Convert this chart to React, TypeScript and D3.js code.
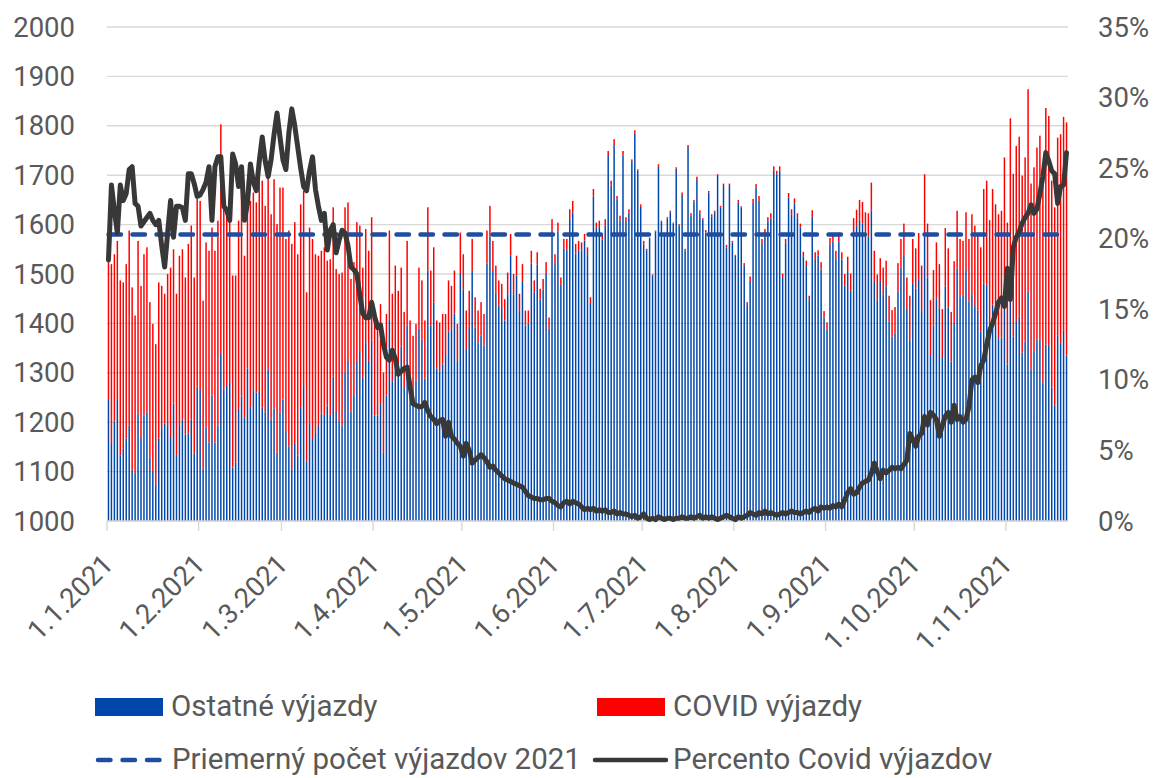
import { useRef, useEffect } from 'react';
import * as d3 from 'd3';

// popisky osi x (prvy den v mesiaci)
const mesiace = ['1.1.2021', '1.2.2021', '1.3.2021', '1.4.2021', '1.5.2021', '1.6.2021',
  '1.7.2021', '1.8.2021', '1.9.2021', '1.10.2021', '1.11.2021'];

// denny pocet vyjazdov spolu (od 1.1.2021)
const vyjazdySpolu = [
  1527, 1520, 1540, 1567, 1487, 1483, 1520, 1588, 1473, 1416,
  1567, 1476, 1540, 1554, 1443, 1399, 1358, 1483, 1476, 1460,
  1500, 1513, 1550, 1460, 1537, 1550, 1493, 1561, 1598, 1493,
  1652, 1648, 1446, 1564, 1547, 1594, 1547, 1608, 1803, 1631,
  1635, 1628, 1497, 1497, 1608, 1672, 1537, 1689, 1648, 1665,
  1645, 1695, 1689, 1638, 1729, 1621, 1692, 1601, 1675, 1675,
  1571, 1588, 1561, 1605, 1540, 1641, 1668, 1463, 1594, 1571,
  1540, 1537, 1547, 1554, 1527, 1530, 1635, 1510, 1500, 1503,
  1635, 1645, 1490, 1524, 1605, 1598, 1513, 1591, 1547, 1615,
  1419, 1406, 1439, 1301, 1419, 1588, 1460, 1517, 1466, 1513,
  1423, 1567, 1406, 1375, 1399, 1513, 1487, 1406, 1635, 1507,
  1554, 1406, 1402, 1419, 1419, 1487, 1476, 1507, 1399, 1584,
  1540,
  1426, 1466, 1571, 1453, 1426, 1443, 1419, 1588, 1638, 1567,
  1517, 1487, 1480, 1449, 1503, 1581, 1500, 1537, 1460, 1520,
  1426, 1426, 1547, 1487, 1544, 1470, 1490, 1524, 1412, 1611,
  1540, 1604, 1493, 1571, 1571, 1631, 1648, 1561, 1567, 1564,
  1581,
  1554, 1453, 1672, 1604, 1608, 1581, 1611, 1749, 1689, 1773,
  1658, 1618, 1749, 1615, 1631, 1732, 1791, 1712, 1641, 1567,
  1551, 1574, 1499, 1588, 1722, 1608, 1581, 1615, 1628, 1604,
  1716, 1601, 1665, 1551, 1761, 1623, 1650, 1697, 1629, 1613,
  1589, 1668, 1621, 1628, 1702, 1638, 1683, 1559, 1683, 1567,
  1539, 1650, 1637, 1522, 1443, 1495, 1652, 1682, 1658, 1571,
  1591, 1615, 1623, 1718, 1709, 1718, 1501, 1571, 1664, 1631,
  1653, 1623, 1602, 1545, 1527, 1456, 1629, 1544, 1548, 1524,
  1425,
  1402, 1573, 1582, 1547, 1584, 1544, 1500, 1535, 1501, 1613,
  1630, 1650, 1646, 1625, 1623, 1685, 1547, 1499, 1532, 1513,
  1527, 1456, 1427, 1433, 1522, 1571, 1602, 1493, 1456, 1571,
  1552, 1583, 1517, 1702, 1602, 1447, 1508, 1564, 1520, 1429,
  1593,
  1552, 1423, 1526, 1628, 1571, 1567, 1625, 1571, 1621, 1598,
  1581, 1554, 1672, 1689, 1609, 1672, 1641, 1621, 1628, 1736,
  1604, 1815, 1703, 1759, 1778, 1699, 1736, 1874, 1683, 1716,
  1756, 1780, 1695, 1836, 1820, 1689, 1635, 1776, 1783, 1818,
  1807,
];

// percento covid vyjazdov v dany den
const percentoCovid = [
  18.5, 23.8, 22.0, 20.4, 23.8, 22.7, 23.2, 24.9, 25.1, 22.5,
  22.3, 20.9, 21.2, 21.5, 21.8, 21.3, 21.0, 21.3, 19.5, 18.0,
  20.4, 22.7, 20.1, 22.3, 22.3, 22.2, 21.3, 24.6, 24.6, 23.9,
  23.0, 23.1, 23.5, 24.0, 25.1, 21.3, 25.1, 25.8, 25.8, 22.3,
  22.0, 21.3, 26.0, 25.3, 23.7, 25.1, 21.3, 22.5, 25.3, 24.0,
  23.4, 25.5, 27.2, 25.5, 24.4, 25.6, 27.4, 28.9, 27.2, 25.6,
  24.9, 27.5, 29.2, 28.0, 26.5, 25.0, 23.7, 23.4, 24.8, 25.8,
  23.5, 22.3, 21.3, 21.8, 19.2, 20.6, 21.0, 19.0, 19.9, 20.6,
  20.4, 19.5, 18.0, 17.8, 17.5, 16.0, 14.7, 14.4, 14.4, 15.5,
  14.5, 13.7, 13.9, 12.5, 11.6, 11.4, 12.1, 11.5, 10.4, 10.6,
  10.8, 10.9, 9.5, 8.3, 8.2, 8.1, 8.1, 8.4, 7.8, 7.4,
  7.2, 6.9, 7.1, 7.2, 6.0, 7.0, 6.0, 5.8, 5.5, 5.3,
  4.6,
  5.5, 5.0, 4.1, 4.3, 4.5, 4.7, 4.5, 4.2, 3.8, 3.9,
  3.6, 3.4, 3.2, 3.0, 2.9, 2.8, 2.7, 2.6, 2.5, 2.4,
  2.1, 1.8, 1.7, 1.6, 1.6, 1.5, 1.5, 1.6, 1.6, 1.4,
  1.3, 1.1, 1.0, 1.3, 1.4, 1.2, 1.4, 1.3, 1.2, 1.0,
  0.8,
  0.9, 0.8, 0.9, 0.7, 0.8, 0.7, 0.8, 0.6, 0.6, 0.7,
  0.5, 0.6, 0.5, 0.5, 0.4, 0.3, 0.4, 0.2, 0.3, 0.5,
  0.2, 0.1, 0.2, 0.1, 0.3, 0.2, 0.1, 0.2, 0.2, 0.1,
  0.2, 0.2, 0.3, 0.2, 0.2, 0.3, 0.2, 0.3, 0.4, 0.2,
  0.3, 0.2, 0.3, 0.2, 0.1, 0.2, 0.3, 0.4, 0.3, 0.2,
  0.1, 0.3, 0.2, 0.3, 0.4, 0.6, 0.5, 0.4, 0.6, 0.5,
  0.7, 0.5, 0.6, 0.5, 0.4, 0.5, 0.6, 0.5, 0.6, 0.7,
  0.6, 0.6, 0.5, 0.6, 0.7, 0.6, 0.8, 0.9, 0.7, 1.0,
  0.9,
  1.0, 0.9, 1.1, 1.0, 1.2, 1.0, 1.5, 2.0, 2.3, 1.9,
  2.0, 2.4, 2.7, 2.8, 2.9, 3.4, 4.1, 3.5, 3.0, 3.6,
  3.4, 3.6, 3.8, 3.7, 3.8, 3.7, 4.0, 4.3, 6.2, 5.8,
  5.3, 6.0, 6.2, 7.4, 6.8, 7.7, 7.5, 7.2, 6.0, 6.8,
  7.4,
  7.7, 7.0, 8.2, 7.2, 7.4, 7.0, 7.2, 8.1, 10.0, 10.2,
  9.8, 11.0, 11.4, 12.5, 13.5, 14.0, 14.7, 15.5, 15.8, 15.2,
  17.9, 15.7, 19.4, 20.1, 20.5, 21.1, 21.5, 21.8, 22.4, 21.8,
  22.1, 23.2, 24.4, 26.1, 25.5, 24.8, 24.6, 22.5, 23.7, 23.8,
  26.1,
];

const priemerVyjazdov = 1580;

const modra = '#0047ab';
const cervena = '#ff0000';
const sedaText = '#595959';
const font = 'Roboto, "Liberation Sans", sans-serif';

const W = 1161;
const H = 778;
const margin = { top: 27, right: 93, bottom: 257, left: 107 };

const App = () => {
  const svgRef = useRef<SVGSVGElement>(null);

  useEffect(() => {
    const svg = d3.select(svgRef.current);
    svg.selectAll('*').remove();

    const start = new Date(2021, 0, 1);
    const dni = d3.timeDay.range(start, d3.timeDay.offset(start, vyjazdySpolu.length));

    // rozdelenie na covid a ostatne
    const data = dni.map((d, i) => {
      const covid = Math.round(vyjazdySpolu[i] * percentoCovid[i] / 100);
      return { i, den: d, ostatne: vyjazdySpolu[i] - covid, covid, pct: percentoCovid[i] / 100 };
    });

    const x = d3.scaleBand<number>()
      .domain(data.map((d) => d.i))
      .range([margin.left, W - margin.right])
      .paddingInner(0.5)
      .paddingOuter(0.25);
    const yL = d3.scaleLinear().domain([1000, 2000]).range([H - margin.bottom, margin.top]).clamp(true);
    const yR = d3.scaleLinear().domain([0, 0.35]).range([H - margin.bottom, margin.top]);
    const cx = (i: number) => (x(i) as number) + x.bandwidth() / 2;

    // mriezka
    svg.append('g')
      .selectAll('line')
      .data(yL.ticks(10))
      .join('line')
      .attr('x1', margin.left)
      .attr('x2', W - margin.right)
      .attr('y1', (d) => yL(d))
      .attr('y2', (d) => yL(d))
      .attr('stroke', '#d9d9d9')
      .attr('stroke-width', 1.4);

    // stlpce
    const stack = d3.stack<any>().keys(['ostatne', 'covid'])(data);
    const farby = [modra, cervena];
    svg.append('g')
      .selectAll('g')
      .data(stack)
      .join('g')
      .attr('fill', (_, k) => farby[k])
      .selectAll('rect')
      .data((s) => s)
      .join('rect')
      .attr('x', (d: any) => x(d.data.i) as number)
      .attr('width', x.bandwidth())
      .attr('y', (d) => yL(d[1]))
      .attr('height', (d) => yL(d[0]) - yL(d[1]));

    // os x
    const yOs = H - margin.bottom;
    svg.append('line')
      .attr('x1', margin.left).attr('x2', W - margin.right)
      .attr('y1', yOs).attr('y2', yOs)
      .attr('stroke', '#d9d9d9').attr('stroke-width', 1.4);

    const prveDni = data.filter((d) => d.den.getDate() === 1);
    const krokX = x.step();
    const osX = svg.append('g');
    osX.selectAll('line')
      .data(prveDni)
      .join('line')
      .attr('x1', (d) => (x(d.i) as number) - (krokX - x.bandwidth()) / 2)
      .attr('x2', (d) => (x(d.i) as number) - (krokX - x.bandwidth()) / 2)
      .attr('y1', yOs)
      .attr('y2', yOs + 10)
      .attr('stroke', '#d9d9d9')
      .attr('stroke-width', 1.4);
    osX.selectAll('text')
      .data(prveDni)
      .join('text')
      .attr('transform', (d) => `translate(${(x(d.i) as number) + 7},${yOs + 45}) rotate(-45)`)
      .attr('text-anchor', 'end')
      .attr('fill', sedaText)
      .style('font-family', font)
      .style('font-size', '27.5px')
      .text((_, k) => mesiace[k]);

    // lava os
    svg.append('g')
      .selectAll('text')
      .data(yL.ticks(10))
      .join('text')
      .attr('x', 75)
      .attr('y', (d) => yL(d))
      .attr('dy', '0.35em')
      .attr('text-anchor', 'end')
      .attr('fill', sedaText)
      .style('font-family', font)
      .style('font-size', '27.5px')
      .text((d) => d);

    // prava os
    svg.append('g')
      .selectAll('text')
      .data(d3.range(0, 0.351, 0.05))
      .join('text')
      .attr('x', 1098)
      .attr('y', (d) => yR(d))
      .attr('dy', '0.35em')
      .attr('fill', sedaText)
      .style('font-family', font)
      .style('font-size', '27.5px')
      .text((d) => d3.format('.0%')(d));

    // priemerny pocet vyjazdov
    const priemerLine = d3.line<any>().x((d) => cx(d.i)).y(() => yL(priemerVyjazdov));
    svg.append('path')
      .attr('d', priemerLine(data))
      .attr('fill', 'none')
      .attr('stroke', '#1f4e9f')
      .attr('stroke-width', 4.5)
      .attr('stroke-linecap', 'round')
      .attr('stroke-dasharray', '12.5 11.5');

    // percento covid vyjazdov
    const pctLine = d3.line<any>().x((d) => cx(d.i)).y((d) => yR(d.pct));
    svg.append('path')
      .attr('d', pctLine(data))
      .attr('fill', 'none')
      .attr('stroke', '#383838')
      .attr('stroke-width', 5)
      .attr('stroke-linejoin', 'round')
      .attr('stroke-linecap', 'round');

    // legenda
    const leg = svg.append('g').style('font-family', font).style('font-size', '29.5px').attr('fill', sedaText);
    leg.append('rect').attr('x', 95).attr('y', 698).attr('width', 68).attr('height', 18).attr('fill', modra);
    leg.append('text').attr('x', 171).attr('y', 716).text('Ostatné výjazdy');
    leg.append('rect').attr('x', 597).attr('y', 698).attr('width', 68).attr('height', 18).attr('fill', cervena);
    leg.append('text').attr('x', 673).attr('y', 716).text('COVID výjazdy');
    leg.append('line')
      .attr('x1', 98).attr('x2', 160).attr('y1', 760).attr('y2', 760)
      .attr('stroke', '#1f4e9f').attr('stroke-width', 4.5)
      .attr('stroke-linecap', 'round').attr('stroke-dasharray', '12.5 12');
    leg.append('text').attr('x', 172).attr('y', 769).text('Priemerný počet výjazdov 2021');
    leg.append('line')
      .attr('x1', 595).attr('x2', 666).attr('y1', 760).attr('y2', 760)
      .attr('stroke', '#383838').attr('stroke-width', 4.5)
      .attr('stroke-linecap', 'round');
    leg.append('text').attr('x', 673).attr('y', 769).text('Percento Covid výjazdov');
  }, []);

  return (
    <div style={{ position: 'absolute', left: 0, top: 0, width: W, height: H, background: '#fff' }}>
      <svg ref={svgRef} width={W} height={H} style={{ display: 'block' }}></svg>
    </div>
  );
};

export default App;
